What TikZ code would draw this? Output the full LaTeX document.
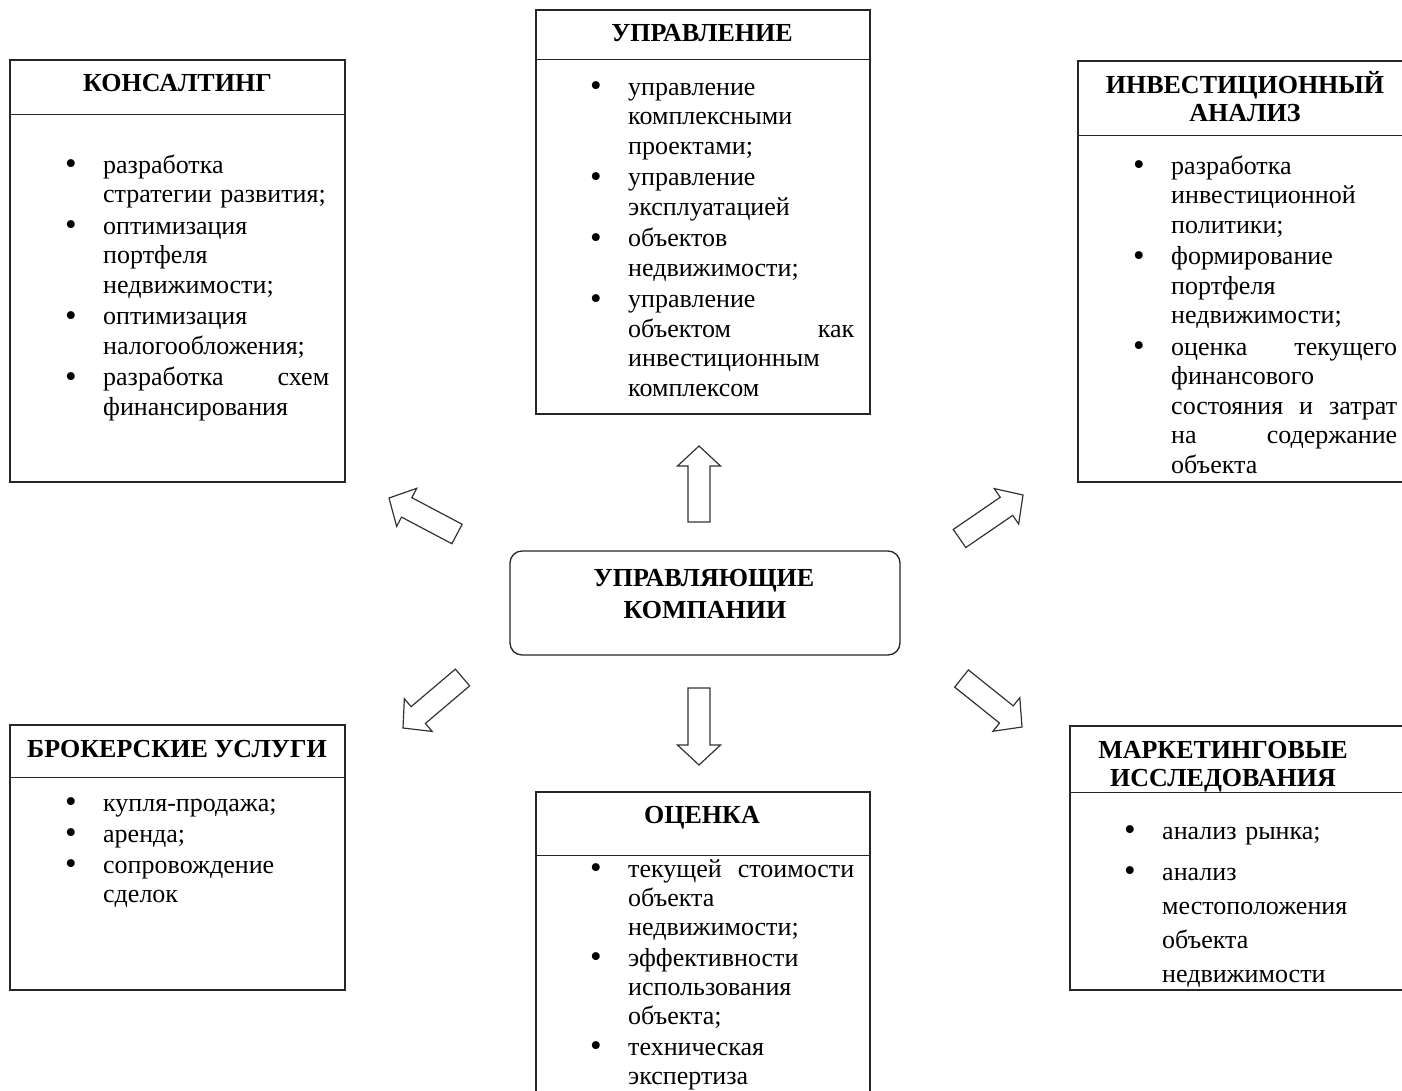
\documentclass[tikz,border=0pt]{standalone}
\usepackage{fontspec}
\setmainfont{Liberation Serif}
\usetikzlibrary{calc}
\newlength\bind
\setlength\bind{38pt}
\newcommand\bul{\raisebox{-1.5pt}{\fontsize{33}{30}\selectfont\textbullet}}
\newcommand\itm[1]{\noindent\hangindent=\bind\hangafter=1\makebox[\bind][l]{\rule{0pt}{21pt}\bul}#1\par}
\newcommand\blockarr[2]{%
\draw[arr] let \p1=($(#2)-(#1)$), \n1={atan2(\y1,\x1)}, \n2={veclen(\x1,\y1)} in
 ($(#1)+(\n1+90:11pt)$) -- ++(\n1:\n2-20pt) -- ++(\n1+90:10.5pt) -- (#2)
 -- ($(#2)+(\n1+180:20pt)+(\n1-90:21.5pt)$) -- ++(\n1+90:10.5pt) -- ++(\n1+180:\n2-20pt) -- cycle;}
\tikzset{
 frame/.style={draw=black!85, line width=1.3pt, inner sep=0pt, minimum width=#1},
 divider/.style={draw=black!85, line width=1.3pt},
 arr/.style={draw=black!80, line width=1.2pt, fill=white, line join=miter},
 ttl/.style={anchor=base, inner sep=0pt, font=\bfseries\fontsize{26}{30}\selectfont},
 body/.style={anchor=north west, inner sep=0pt, text width=#1, align=left,
   font=\fontsize{26}{29.5}\selectfont, execute at begin node={\setlength\parskip{2pt}}},
}
\begin{document}
\begin{tikzpicture}[x=1pt,y=-1pt]
\useasboundingbox (0,0) rectangle (1402,1091);
\fill[white] (0,0) rectangle (1402,1091);

% frames
\node[frame=335pt, minimum height=422pt] (b1) at (177.5,271) {};
\node[frame=334pt, minimum height=404pt] (b2) at (703,212) {};
\node[frame=328pt, minimum height=421pt] (b3) at (1242,271.5) {};
\node[frame=390pt, minimum height=104pt, rounded corners=12pt] (b4) at (705,603) {};
\node[frame=335pt, minimum height=265pt] (b5) at (177.5,857.5) {};
\node[frame=334pt, minimum height=308pt] (b6) at (703,946) {};
\node[frame=336pt, minimum height=264pt] (b7) at (1238,858) {};

\draw[divider] ($(b1.north west)+(0,-55pt)$) -- ($(b1.north east)+(0,-55pt)$);
\draw[divider] ($(b2.north west)+(0,-50pt)$) -- ($(b2.north east)+(0,-50pt)$);
\draw[divider] ($(b3.north west)+(0,-75pt)$) -- ($(b3.north east)+(0,-75pt)$);
\draw[divider] ($(b5.north west)+(0,-53pt)$) -- ($(b5.north east)+(0,-53pt)$);
\draw[divider] ($(b6.north west)+(0,-64pt)$) -- ($(b6.north east)+(0,-64pt)$);
\draw[divider] ($(b7.north west)+(0,-67pt)$) -- ($(b7.north east)+(0,-67pt)$);

% titles
\node[ttl] (h1) at (177.5,92) {КОНСАЛТИНГ};
\node[ttl] (h2) at (702,42) {УПРАВЛЕНИЕ};
\node[ttl] (h3a) at (1245,94) {ИНВЕСТИЦИОННЫЙ};
\node[ttl] (h3b) at (1245,122) {АНАЛИЗ};
\node[ttl] (h4a) at (704,586) {УПРАВЛЯЮЩИЕ};
\node[ttl] (h4b) at (705,618) {КОМПАНИИ};
\node[ttl] (h5) at (177,757) {БРОКЕРСКИЕ УСЛУГИ};
\node[ttl] (h6) at (702,823) {ОЦЕНКА};
\node[ttl] (h7a) at (1223,758) {МАРКЕТИНГОВЫЕ};
\node[ttl] (h7b) at (1223,786) {ИССЛЕДОВАНИЯ};

% bodies
\node[body=264pt] (t1) at (65,152) {%
\itm{разработка\newline стратегии развития;}
\itm{оптимизация\newline портфеля\newline недвижимости;}
\itm{оптимизация\newline налогообложения;}
\itm{разработка\hfill схем\newline финансирования}};

\node[body=264pt] (t2) at (590,74) {%
\itm{управление\newline комплексными\newline проектами;}
\itm{управление\newline эксплуатацией}
\itm{объектов\newline недвижимости;}
\itm{управление\newline объектом\hfill как\newline инвестиционным\newline комплексом}};

\node[body=264pt] (t3) at (1133,153) {%
\itm{разработка\newline инвестиционной\newline политики;}
\itm{формирование\newline портфеля\newline недвижимости;}
\itm{оценка\hfill текущего\newline финансового\newline состояния\hfill и\hfill затрат\newline на\hfill содержание\newline объекта}};

\node[body=264pt, font=\fontsize{26}{29}\selectfont] (t5) at (65,790) {%
\itm{купля-продажа;}
\itm{аренда;}
\itm{сопровождение\newline сделок}};

\node[body=264pt, font=\fontsize{26}{29}\selectfont] (t6) at (590,856) {%
\itm{текущей\hfill стоимости\newline объекта\newline недвижимости;}
\itm{эффективности\newline использования\newline объекта;}
\itm{техническая\newline экспертиза}};

\node[body=264pt] (t7) at (1124,818) {%
\itm{анализ рынка;}\fontsize{26}{34}\selectfont\vspace{5pt}%
\itm{анализ\newline местоположения\newline объекта\newline недвижимости}};

% arrows
\coordinate (ulT) at (457,534);   \coordinate (ulH) at (389,498);
\coordinate (urT) at (959.5,538.5); \coordinate (urH) at (1023,495);
\coordinate (llT) at (462.5,677.5); \coordinate (llH) at (403,728);
\coordinate (lrT) at (961.5,678.5); \coordinate (lrH) at (1022,727);
\coordinate (uT) at (699,522);    \coordinate (uH) at (699,446);
\coordinate (dT) at (699,688);    \coordinate (dH) at (699,765);
\blockarr{ulT}{ulH}
\blockarr{urT}{urH}
\blockarr{llT}{llH}
\blockarr{lrT}{lrH}
\blockarr{uT}{uH}
\blockarr{dT}{dH}
\end{tikzpicture}
\end{document}
